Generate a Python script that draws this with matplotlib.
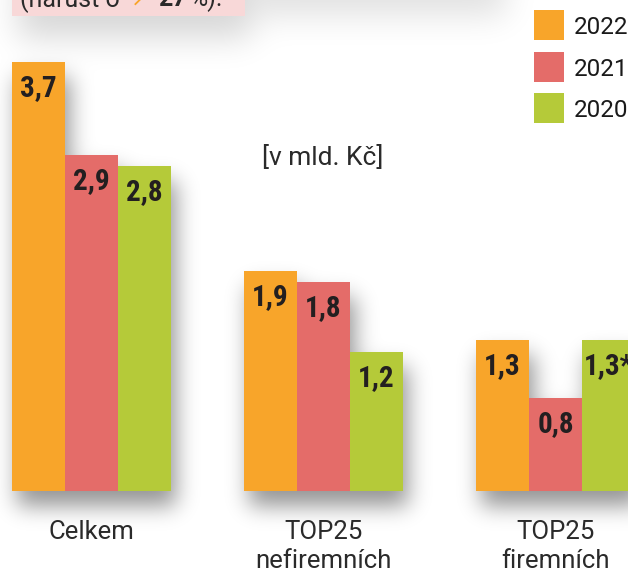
import numpy as np
import matplotlib
matplotlib.use('Agg')
import matplotlib.pyplot as plt
from matplotlib.patches import Rectangle
import matplotlib.transforms as mtransforms
from matplotlib import font_manager
from matplotlib.font_manager import FontProperties

# ---------------- data ----------------
categories = ['Celkem', 'TOP25\nnefiremních', 'TOP25\nfiremních']
years = ['2022', '2021', '2020']
values_2022 = [3.7, 1.9, 1.3]
values_2021 = [2.9, 1.8, 0.8]
values_2020 = [2.8, 1.2, 1.3]
labels_2022 = ['3,7', '1,9', '1,3']
labels_2021 = ['2,9', '1,8', '0,8']
labels_2020 = ['2,8', '1,2', '1,3*']
unit_label = '[v mld. Kč]'
note_parts = ['(nárůst o', '↗', '27', '%).']

colors = ['#F8A52A', '#E46C69', '#B5CA39']
txt_color = '#2a2a2a'

names = {f.name for f in font_manager.fontManager.ttflist}
sans = 'Roboto' if 'Roboto' in names else 'DejaVu Sans'

# find a condensed bold font file for the value labels
cand = []
for f in font_manager.fontManager.ttflist:
    low = f.fname.lower()
    if ('narrow' in low or 'condensed' in low) and 'bold' in low and 'italic' not in low and 'oblique' not in low:
        score = 0
        if 'roboto' in low:
            score = 3
        elif 'liberation' in low:
            score = 2
        elif 'dejavusans' in low and 'mono' not in low:
            score = 1
        cand.append((score, f.fname))
if cand:
    cand.sort(reverse=True)
    num_fp = FontProperties(fname=cand[0][1], size=21)
else:
    num_fp = FontProperties(family=sans, weight='bold', size=19)

W, H = 628, 571
fig = plt.figure(figsize=(W / 100, H / 100), dpi=100)
ax = fig.add_axes([0, 0, 1, 1])
ax.set_xlim(-91.5 / 232, (W - 91.5) / 232)
ax.set_ylim(-80 / 116, (H - 80) / 116)
ax.axis('off')

# pixel helper transform (x from left, y from top)
px = mtransforms.Affine2D().scale(1 / W, -1 / H).translate(0, 1) + fig.transFigure

x = np.arange(len(categories))
bw = 53 / 232
series = [values_2022, values_2021, values_2020]
series_labels = [labels_2022, labels_2021, labels_2020]
bars_all = []
for k, (vals, labs, c) in enumerate(zip(series, series_labels, colors)):
    bars = ax.bar(x + (k - 1) * bw, vals, width=bw, color=c, zorder=3,
                  linewidth=0)
    bars_all.extend(bars)
    for b, lab in zip(bars, labs):
        ax.annotate(lab, xy=(b.get_x() + b.get_width() / 2, b.get_height()),
                    xytext=(0, -34), textcoords='offset pixels',
                    ha='center', va='baseline', fontproperties=num_fp,
                    color='#231f20', zorder=4)

# ---------------- shadows ----------------
def gauss_blur(a, sigma):
    r = int(3 * sigma)
    t = np.arange(-r, r + 1)
    k = np.exp(-t ** 2 / (2 * sigma ** 2))
    k /= k.sum()
    a = np.apply_along_axis(lambda v: np.convolve(v, k, mode='same'), 0, a)
    a = np.apply_along_axis(lambda v: np.convolve(v, k, mode='same'), 1, a)
    return a

PAD = 80
def mask_from_px(boxes, dx, dy):
    m = np.zeros((H + 2 * PAD, W + 2 * PAD))
    for (x0, y0, x1, y1) in boxes:  # pixel coords, y from top
        r0 = int(round(y0 + dy)) + PAD
        r1 = int(round(y1 + dy)) + PAD
        c0 = int(round(x0 + dx)) + PAD
        c1 = int(round(x1 + dx)) + PAD
        r0, r1 = max(r0, 0), min(r1, H + 2 * PAD)
        c0, c1 = max(c0, 0), min(c1, W + 2 * PAD)
        m[r0:r1, c0:c1] = 1
    return m

fig.canvas.draw()
bar_boxes = []
for b in bars_all:
    bb = b.get_window_extent()
    bar_boxes.append((bb.x0, H - bb.y1, bb.x1, H - bb.y0))

shadow = gauss_blur(mask_from_px(bar_boxes, 5, 15), 11) * 0.42
box_rect = (12, -60, 245, 15.7)
shadow += gauss_blur(mask_from_px([box_rect], 6, 22), 16) * 0.16
shadow += gauss_blur(mask_from_px([(250, -80, 500, -6)], 6, 22), 16) * 0.12
shadow = np.clip(shadow[PAD:PAD + H, PAD:PAD + W], 0, 1)
rgba = np.zeros((H, W, 4))
rgba[..., 3] = shadow
xl, yl = ax.get_xlim(), ax.get_ylim()
ax.imshow(rgba, extent=(xl[0], xl[1], yl[0], yl[1]), origin='upper',
          aspect='auto', interpolation='bilinear', zorder=1)
ax.set_xlim(xl)
ax.set_ylim(yl)

# ---------------- top note box ----------------
fig.patches.append(Rectangle((box_rect[0], box_rect[1]), box_rect[2] - box_rect[0],
                             box_rect[3] - box_rect[1], transform=px,
                             facecolor='#F8D8D8', edgecolor='none', zorder=2))
fig.text(20, 6, note_parts[0], transform=px, fontsize=18, family=sans,
         color=txt_color, va='baseline', zorder=5)
fig.text(131, 6, note_parts[1], transform=px, fontsize=16, family='DejaVu Sans',
         color='#F8A52A', va='baseline', zorder=5)
fig.text(158, 6, note_parts[2], transform=px, fontsize=18, family=sans,
         fontweight='bold', color=txt_color, va='baseline', zorder=5)
fig.text(190, 6, note_parts[3], transform=px, fontsize=18, family=sans,
         color=txt_color, va='baseline', zorder=5)

# ---------------- category labels ----------------
for xi, cat in zip(x, categories):
    for j, line in enumerate(cat.split('\n')):
        ax.annotate(line, xy=(xi, 0), xytext=(0, -48 - 29 * j),
                    textcoords='offset pixels', ha='center', va='baseline',
                    fontsize=18.5, family=sans, color=txt_color,
                    annotation_clip=False)

# unit label
fig.text(323, 165, unit_label, transform=px, ha='center', va='baseline',
         fontsize=19, family=sans, color=txt_color)

# ---------------- legend ----------------
for i, (yr, c) in enumerate(zip(years, colors)):
    top = 10 + i * 41.5
    fig.patches.append(Rectangle((534, top + 30), 30, -30, transform=px,
                                 facecolor=c, edgecolor='none'))
    fig.text(574, top + 15, yr, transform=px, ha='left', va='center_baseline',
             fontsize=17.5, family=sans, color='#1a1a1a')

fig.savefig('out.png', dpi=100)
